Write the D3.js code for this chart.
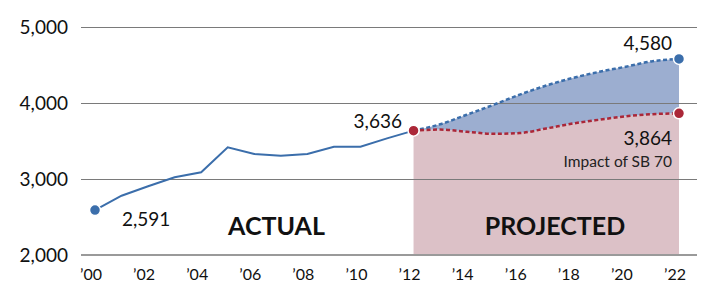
<!DOCTYPE html>
<html><head><meta charset="utf-8">
<script src="https://cdn.jsdelivr.net/npm/d3@7"></script>
<style>
html,body{margin:0;padding:0;background:#fff;}
svg{display:block;font-family:Lato,"Open Sans",sans-serif;}
</style></head>
<body><svg id="c" width="701" height="282"></svg>
<script>
const actualYears = [2000,2001,2002,2003,2004,2005,2006,2007,2008,2009,2010,2011,2012];
const actualValues = [2591,2780,2905,3022,3088,3417,3329,3307,3329,3425,3425,3535,3636];
const projYears = [2012,2013,2014,2015,2016,2017,2018,2019,2020,2021,2022];
const projBase = [3636,3720,3845,3975,4110,4230,4330,4410,4478,4550,4580];
const projSB70 = [3636,3650,3622,3595,3605,3665,3730,3780,3825,3853,3864];
const yTicks = [2000,3000,4000,5000];
const xTicks = [2000,2002,2004,2006,2008,2010,2012,2014,2016,2018,2020,2022];
const xTickLabels = ["\u201900","\u201902","\u201904","\u201906","\u201908","\u201910","\u201912","\u201914","\u201916","\u201918","\u201920","\u201922"];

const svg = d3.select("#c");
const x = d3.scaleLinear().domain([2000,2022]).range([95,679]);
const y = d3.scaleLinear().domain([2000,5000]).range([255,27]);

const blue = "#3b6eab", red = "#ab2738";
const proj = projYears.map((yr,i)=>({yr, base:projBase[i], sb:projSB70[i]}));
const act = actualYears.map((yr,i)=>({yr, v:actualValues[i]}));
const curve = d3.curveMonotoneX;

// areas
svg.append("path").datum(proj)
  .attr("fill","#dcc1c7")
  .attr("d", d3.area().curve(curve).x(d=>x(d.yr)).y0(y(2000)).y1(d=>y(d.sb)));
svg.append("path").datum(proj)
  .attr("fill","#9caed0")
  .attr("d", d3.area().curve(curve).x(d=>x(d.yr)).y0(d=>y(d.sb)).y1(d=>y(d.base)));

// gridlines
svg.append("g").selectAll("line").data(yTicks).join("line")
  .attr("x1",81).attr("x2",697)
  .attr("y1",d=>y(d)).attr("y2",d=>y(d))
  .attr("stroke",d=>d===2000?"#9a9a9a":"#7a7a7a")
  .attr("stroke-width",d=>d===2000?2:1)
  .attr("shape-rendering","crispEdges");

// y labels
svg.append("g").selectAll("text").data(yTicks).join("text")
  .attr("x",68).attr("y",d=>y(d)+7)
  .attr("text-anchor","end").attr("font-size",19).attr("fill","#111")
  .text(d=>d3.format(",")(d));

// x labels
svg.append("g").selectAll("text").data(xTicks).join("text")
  .attr("x",d=>x(d)-4).attr("y",280)
  .attr("text-anchor","middle").attr("font-size",16).attr("fill","#111")
  .text((d,i)=>xTickLabels[i]);

// lines
svg.append("path").datum(act).attr("fill","none").attr("stroke",blue).attr("stroke-width",2)
  .attr("d", d3.line().x(d=>x(d.yr)).y(d=>y(d.v)));
svg.append("path").datum(proj).attr("fill","none").attr("stroke",blue).attr("stroke-width",2.5)
  .attr("stroke-dasharray","4,2.5")
  .attr("d", d3.line().curve(curve).x(d=>x(d.yr)).y(d=>y(d.base)));
svg.append("path").datum(proj).attr("fill","none").attr("stroke",red).attr("stroke-width",2.5)
  .attr("stroke-dasharray","4,2.5")
  .attr("d", d3.line().curve(curve).x(d=>x(d.yr)).y(d=>y(d.sb)));

// dots
const dots = [
  {yr:actualYears[0], v:actualValues[0], c:blue},
  {yr:actualYears[actualYears.length-1], v:actualValues[actualValues.length-1], c:red},
  {yr:projYears[projYears.length-1], v:projBase[projBase.length-1], c:blue},
  {yr:projYears[projYears.length-1], v:projSB70[projSB70.length-1], c:red}
];
svg.append("g").selectAll("circle").data(dots).join("circle")
  .attr("cx",d=>x(d.yr)).attr("cy",d=>y(d.v)).attr("r",5.5)
  .attr("fill",d=>d.c).attr("stroke","#fff").attr("stroke-width",1.5);

// value labels
const fmt = d3.format(",");
const lab = svg.append("g").attr("font-size",19).attr("fill","#111");
lab.append("text").attr("x",122).attr("y",226).text(fmt(actualValues[0]));
lab.append("text").attr("x",402).attr("y",128).attr("text-anchor","end").text(fmt(actualValues[actualValues.length-1]));
lab.append("text").attr("x",672).attr("y",50).attr("text-anchor","end").text(fmt(projBase[projBase.length-1]));
lab.append("text").attr("x",672).attr("y",145).attr("text-anchor","end").text(fmt(projSB70[projSB70.length-1]));
svg.append("text").attr("x",672).attr("y",167).attr("text-anchor","end")
  .attr("font-size",15.5).attr("fill","#222").text("Impact of SB 70");

svg.append("text").attr("x",276.5).attr("y",235).attr("text-anchor","middle")
  .attr("font-size",25).attr("font-weight","bold").attr("fill","#111").text("ACTUAL");
svg.append("text").attr("x",555).attr("y",235).attr("text-anchor","middle")
  .attr("font-size",25).attr("font-weight","bold").attr("fill","#111").text("PROJECTED");
</script></body></html>
